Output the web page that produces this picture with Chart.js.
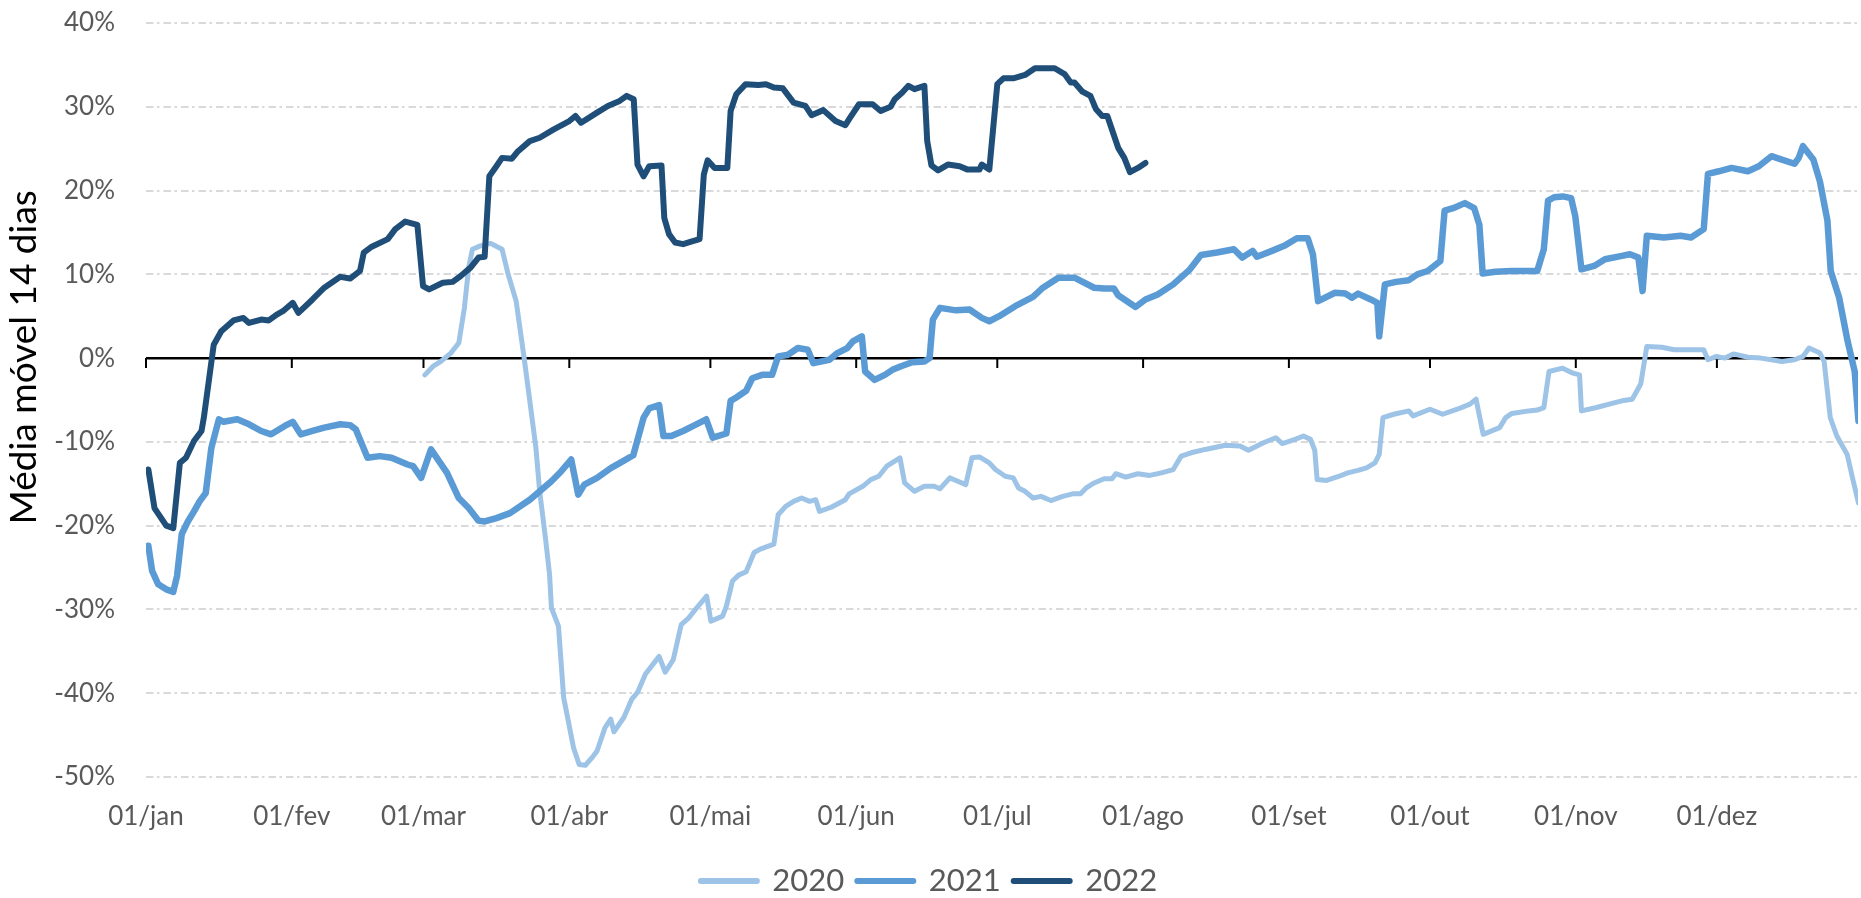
<!DOCTYPE html>
<html>
<head>
<meta charset="utf-8">
<script src="https://cdn.jsdelivr.net/npm/chart.js@4"></script>
<style>
  html, body { margin: 0; padding: 0; background: #fff; overflow: hidden; }
  canvas { display: block; }
</style>
</head>
<body>
<canvas id="canvas" width="1861" height="898"></canvas>
<script>
  // x = day of year (0 = 01/jan), y = 14-day moving average in %
  const seriesNames = ['2020', '2021', '2022'];
  const tickDays = [0, 31, 59, 90, 120, 151, 181, 212, 243, 273, 304, 334];
  const tickLabels = ['01/jan', '01/fev', '01/mar', '01/abr', '01/mai', '01/jun', '01/jul', '01/ago', '01/set', '01/out', '01/nov', '01/dez'];

  const days2020 = [59.3, 61.0, 62.7, 64.8, 66.5, 67.7, 68.6, 69.4, 71.1, 73.2, 75.7, 77.0, 78.7, 80.4, 81.6, 82.9, 83.7, 85.0, 85.8, 86.2,
    87.7, 88.8, 90.9, 92.1, 93.4, 95.1, 95.9, 97.6, 98.8, 99.5, 101.6, 103.3, 104.5, 106.2, 109.1, 110.4, 112.1, 113.8, 115.4, 117.1,
    119.2, 120.1, 122.6, 123.4, 124.7, 126.0, 127.6, 129.3, 130.6, 133.5, 134.4, 136.0, 137.7, 139.4, 141.1, 142.4, 143.2, 145.7, 148.7, 149.5,
    152.4, 154.1, 155.8, 157.5, 159.2, 160.3, 161.3, 163.4, 165.5, 167.6, 168.8, 170.9, 172.6, 174.3, 175.6, 177.2, 179.3, 180.6, 182.7, 184.4,
    185.5, 186.9, 188.6, 190.3, 192.4, 194.9, 197.0, 198.7, 199.9, 201.6, 203.7, 205.4, 206.2, 208.3, 210.9, 213.4, 215.9, 218.4, 220.1, 222.2,
    225.2, 229.5, 232.6, 234.4, 237.6, 240.2, 241.6, 244.3, 246.1, 247.6, 248.5, 249.0, 251.0, 253.7, 255.5, 257.7, 259.5, 261.3, 262.2, 263.0,
    265.3, 268.5, 269.4, 273.0, 275.7, 278.8, 281.5, 282.8, 284.3, 287.8, 289.1, 290.4, 294.0, 295.8, 297.2, 298.3, 301.2, 303.4, 304.8, 305.2,
    308.4, 311.1, 313.8, 316.0, 317.8, 319.1, 322.3, 324.9, 331.2, 332.1, 333.9, 335.7, 337.5, 340.6, 343.3, 345.6, 347.8, 350.5, 352.3, 353.6,
    355.9, 356.8, 358.1, 359.5, 361.7, 363.0, 364.1];
  const vals2020 = [-2.0, -1.0, -0.4, 0.6, 1.8, 6.0, 10.8, 13.0, 13.4, 13.7, 13.0, 10.0, 6.8, 0.0, -5.1, -10.7, -15.9, -21.8, -25.8, -29.8,
    -32.0, -40.5, -46.5, -48.5, -48.6, -47.5, -46.9, -44.1, -43.1, -44.6, -42.9, -40.7, -39.9, -37.7, -35.6, -37.5, -36.0, -31.8, -31.0, -29.8,
    -28.4, -31.4, -30.8, -29.6, -26.6, -25.9, -25.5, -23.2, -22.8, -22.2, -18.7, -17.7, -17.1, -16.7, -17.1, -16.9, -18.3, -17.8, -16.9, -16.2,
    -15.3, -14.5, -14.1, -12.9, -12.3, -11.9, -14.9, -15.9, -15.3, -15.3, -15.6, -14.3, -14.7, -15.1, -11.9, -11.8, -12.5, -13.3, -14.1, -14.3,
    -15.5, -15.9, -16.7, -16.5, -17.0, -16.5, -16.2, -16.2, -15.5, -14.9, -14.4, -14.4, -13.8, -14.2, -13.8, -14.0, -13.7, -13.3, -11.7, -11.3,
    -10.9, -10.4, -10.5, -11.0, -10.1, -9.5, -10.2, -9.7, -9.3, -9.7, -11.0, -14.5, -14.6, -14.1, -13.7, -13.4, -13.1, -12.5, -11.5, -7.1,
    -6.7, -6.3, -6.9, -6.1, -6.7, -6.1, -5.5, -4.9, -9.1, -8.3, -7.1, -6.6, -6.3, -6.2, -5.9, -1.6, -1.2, -1.8, -2.0, -6.3,
    -5.9, -5.5, -5.1, -4.9, -3.1, 1.4, 1.3, 1.0, 1.0, -0.2, 0.2, 0.0, 0.5, 0.1, 0.0, -0.2, -0.4, -0.2, 0.2, 1.2,
    0.6, -0.4, -7.1, -9.3, -11.5, -14.7, -17.3];

  const days2021 = [0.5, 1.3, 2.6, 4.3, 5.8, 6.6, 7.6, 8.9, 10.2, 11.4, 12.7, 13.9, 15.5, 16.5, 19.4, 21.9, 24.5, 26.6, 29.5, 31.2,
    32.9, 35.4, 37.9, 41.3, 43.4, 44.6, 47.1, 49.7, 52.2, 55.6, 56.8, 58.5, 60.6, 64.0, 66.5, 68.6, 70.7, 72.0, 74.5, 77.4,
    81.6, 86.2, 88.3, 90.4, 91.9, 93.2, 95.9, 98.9, 100.8, 103.6, 105.8, 107.0, 109.1, 110.0, 111.7, 114.2, 116.7, 119.1, 120.5, 123.4,
    124.3, 125.5, 127.6, 128.9, 131.0, 133.1, 134.4, 136.5, 138.6, 140.7, 141.9, 145.3, 147.0, 149.1, 150.3, 152.2, 152.9, 154.9, 157.1, 158.7,
    160.4, 162.9, 165.5, 166.6, 167.3, 168.8, 172.2, 175.1, 177.7, 179.3, 181.4, 184.8, 188.6, 190.7, 194.0, 197.4, 201.6, 203.7, 205.8, 206.7,
    210.4, 212.5, 215.1, 218.4, 221.8, 224.3, 227.7, 231.3, 233.1, 235.3, 236.2, 239.4, 242.0, 244.7, 247.0, 248.1, 249.2, 252.8, 255.0, 256.4,
    257.7, 260.4, 261.8, 262.2, 263.4, 265.8, 268.5, 270.3, 272.5, 275.2, 276.1, 277.9, 280.4, 282.4, 283.5, 284.2, 286.9, 290.4, 295.8, 297.2,
    298.1, 299.4, 301.2, 303.0, 303.9, 305.2, 307.9, 310.2, 313.8, 315.5, 317.3, 318.2, 319.1, 322.7, 326.3, 328.5, 331.2, 332.1, 334.4, 337.1,
    340.6, 342.9, 345.6, 347.8, 350.5, 351.4, 352.3, 354.5, 355.9, 357.5, 358.2, 360.0, 361.8, 363.3, 364.1];
  const vals2021 = [-22.4, -25.4, -27.0, -27.6, -27.9, -26.0, -21.0, -19.5, -18.3, -17.1, -16.1, -10.7, -7.3, -7.6, -7.3, -7.9, -8.7, -9.1, -8.1, -7.6,
    -9.1, -8.7, -8.3, -7.9, -8.0, -8.5, -11.9, -11.7, -11.9, -12.7, -12.9, -14.3, -10.9, -13.7, -16.7, -17.9, -19.4, -19.5, -19.1, -18.5,
    -16.9, -14.7, -13.5, -12.1, -16.3, -15.1, -14.3, -13.1, -12.5, -11.6, -7.1, -6.0, -5.6, -9.3, -9.3, -8.7, -8.0, -7.3, -9.5, -9.0,
    -5.1, -4.7, -3.9, -2.4, -2.0, -2.0, 0.2, 0.4, 1.2, 1.0, -0.6, -0.2, 0.6, 1.2, 2.0, 2.6, -1.6, -2.6, -2.0, -1.4,
    -1.0, -0.5, -0.4, 0.0, 4.6, 6.0, 5.7, 5.8, 4.8, 4.4, 5.0, 6.2, 7.3, 8.4, 9.6, 9.6, 8.4, 8.3, 8.3, 7.5,
    6.1, 7.0, 7.6, 8.8, 10.5, 12.3, 12.6, 13.0, 12.0, 12.8, 12.1, 12.8, 13.4, 14.3, 14.3, 12.4, 6.8, 7.8, 7.7, 7.2,
    7.7, 7.0, 6.6, 2.6, 8.8, 9.1, 9.3, 10.0, 10.4, 11.6, 17.6, 17.9, 18.5, 17.9, 15.9, 10.1, 10.3, 10.4, 10.4, 13.0,
    18.8, 19.2, 19.3, 19.1, 16.9, 10.6, 11.0, 11.8, 12.2, 12.4, 12.0, 8.0, 14.6, 14.4, 14.6, 14.4, 15.4, 22.0, 22.3, 22.7,
    22.3, 22.9, 24.1, 23.7, 23.2, 23.9, 25.3, 23.7, 21.1, 16.4, 10.4, 7.2, 2.0, -1.6, -7.5];

  const days2022 = [0.5, 1.8, 4.3, 5.8, 7.2, 8.5, 10.2, 11.8, 12.3, 14.4, 16.0, 18.6, 20.7, 21.9, 24.5, 26.1, 27.8, 29.1, 31.2, 32.4,
    35.4, 37.9, 41.3, 43.4, 45.5, 46.3, 48.0, 51.4, 53.0, 55.1, 57.7, 58.9, 60.2, 63.1, 65.2, 66.9, 69.0, 70.7, 72.0, 73.0,
    74.5, 75.7, 77.8, 79.1, 81.6, 83.7, 86.7, 90.0, 91.3, 92.5, 95.9, 98.2, 100.7, 102.2, 103.7, 104.5, 105.8, 107.0, 109.6, 110.2,
    111.2, 112.5, 114.2, 115.9, 117.7, 118.6, 119.4, 120.9, 123.6, 124.3, 125.5, 127.5, 130.2, 131.8, 133.5, 135.4, 137.7, 140.2, 141.5, 144.0,
    146.6, 148.7, 149.7, 151.6, 154.5, 156.2, 158.3, 159.2, 160.8, 162.1, 163.4, 165.5, 166.1, 167.0, 168.4, 170.5, 173.0, 174.7, 177.2, 177.7,
    179.3, 181.0, 182.3, 184.4, 186.9, 189.0, 193.2, 195.3, 196.6, 197.4, 199.1, 200.8, 202.0, 203.3, 204.4, 206.7, 208.0, 209.2, 210.9, 212.5];
  const vals2022 = [-13.3, -17.9, -20.0, -20.3, -12.5, -11.9, -9.9, -8.7, -7.1, 1.6, 3.2, 4.5, 4.8, 4.2, 4.6, 4.5, 5.2, 5.6, 6.6, 5.4,
    7.0, 8.4, 9.7, 9.5, 10.4, 12.6, 13.3, 14.2, 15.4, 16.3, 15.9, 8.6, 8.2, 9.0, 9.1, 9.8, 10.8, 12.0, 12.1, 21.7,
    22.9, 23.9, 23.8, 24.7, 25.9, 26.3, 27.3, 28.3, 28.9, 28.1, 29.3, 30.1, 30.7, 31.3, 30.9, 23.1, 21.7, 22.9, 23.0, 16.7,
    14.8, 13.8, 13.6, 13.9, 14.2, 21.9, 23.6, 22.7, 22.7, 29.5, 31.5, 32.7, 32.6, 32.7, 32.3, 32.2, 30.5, 30.1, 29.0, 29.6,
    28.3, 27.8, 28.7, 30.3, 30.3, 29.5, 30.0, 30.9, 31.7, 32.5, 32.1, 32.5, 25.9, 23.0, 22.4, 23.1, 22.9, 22.5, 22.5, 23.1,
    22.5, 32.7, 33.4, 33.4, 33.8, 34.6, 34.6, 33.9, 32.9, 32.9, 31.8, 31.3, 29.7, 28.9, 28.9, 25.1, 23.9, 22.2, 22.7, 23.3];

  const colors = ['#9DC3E6', '#5B9BD5', '#1F4E79'];
  const widths = [5, 6.5, 6];
  const allDays = [days2020, days2021, days2022];
  const allVals = [vals2020, vals2021, vals2022];

  const toPoints = (days, vals) => days.map((d, i) => ({ x: d, y: vals[i] }));

  const datasets = seriesNames.map((name, i) => ({
    label: name,
    data: toPoints(allDays[i], allVals[i]),
    borderColor: colors[i],
    backgroundColor: colors[i],
    borderWidth: widths[i],
    borderJoinStyle: 'round',
    borderCapStyle: 'round',
    pointRadius: 0,
    tension: 0,
    order: 3 - i // 2022 drawn on top
  }));

  // small tick marks hanging below the 0% line at each month
  const zeroTicks = {
    id: 'zeroTicks',
    beforeDatasetsDraw(chart) {
      const { ctx, scales: { x, y } } = chart;
      const y0 = y.getPixelForValue(0);
      ctx.save();
      ctx.strokeStyle = '#000';
      ctx.lineWidth = 2;
      ctx.beginPath();
      x.ticks.forEach(t => {
        const px = x.getPixelForValue(t.value);
        ctx.moveTo(px, y0);
        ctx.lineTo(px, y0 + 10);
      });
      ctx.stroke();
      ctx.restore();
    }
  };

  const isZero = c => c.tick && c.tick.value === 0;
  const font = size => ({ family: 'Lato', size: size });

  const canvas = document.getElementById('canvas');
  const ctx = canvas.getContext('2d');

  new Chart(ctx, {
    type: 'line',
    data: { datasets: datasets },
    options: {
      responsive: false,
      animation: false,
      devicePixelRatio: 1,
      layout: { padding: { top: 23, right: 3, bottom: -8.5, left: 0 } },
      plugins: {
        tooltip: { enabled: false },
        legend: {
          position: 'bottom',
          labels: {
            usePointStyle: true,
            pointStyle: 'line',
            pointStyleWidth: 56,
            padding: 13,
            color: '#595959',
            font: font(31),
            sort: (a, b) => a.datasetIndex - b.datasetIndex,
            generateLabels: chart => Chart.defaults.plugins.legend.labels.generateLabels(chart)
              .map(l => Object.assign(l, { lineWidth: 6, lineCap: 'round' }))
          }
        }
      },
      scales: {
        x: {
          type: 'linear',
          min: 0,
          max: 364,
          grid: { display: false, drawTicks: false },
          border: { display: false },
          afterBuildTicks: scale => { scale.ticks = tickDays.map(v => ({ value: v })); },
          afterFit: scale => { scale.height = 75.5; },
          ticks: {
            autoSkip: false,
            maxRotation: 0,
            minRotation: 0,
            padding: 24,
            color: '#595959',
            font: font(26),
            callback: v => {
              const i = tickDays.indexOf(v);
              return i >= 0 ? tickLabels[i] : '';
            }
          }
        },
        y: {
          min: -50,
          max: 40,
          afterFit: scale => { scale.width = 146; },
          grid: {
            drawTicks: true,
            tickLength: 31, // invisible ticks, used as the gap between labels and plot
            tickColor: 'rgba(0,0,0,0)',
            color: c => isZero(c) ? '#000' : '#D9D9D9',
            lineWidth: c => isZero(c) ? 2.5 : 2
          },
          border: {
            display: false,
            dash: c => isZero(c) ? [] : [7.5, 3.5, 2.5, 4]
          },
          ticks: {
            stepSize: 10,
            padding: 0,
            color: '#595959',
            font: font(26),
            callback: v => v + '%'
          },
          title: {
            display: true,
            // leading no-break spaces nudge the centred title up, as in the original
            text: '\u00a0'.repeat(9) + 'Média móvel 14 dias',
            color: '#000',
            font: font(37),
            padding: { top: 2, bottom: 0 }
          }
        }
      }
    },
    plugins: [zeroTicks]
  });
</script>
</body>
</html>
